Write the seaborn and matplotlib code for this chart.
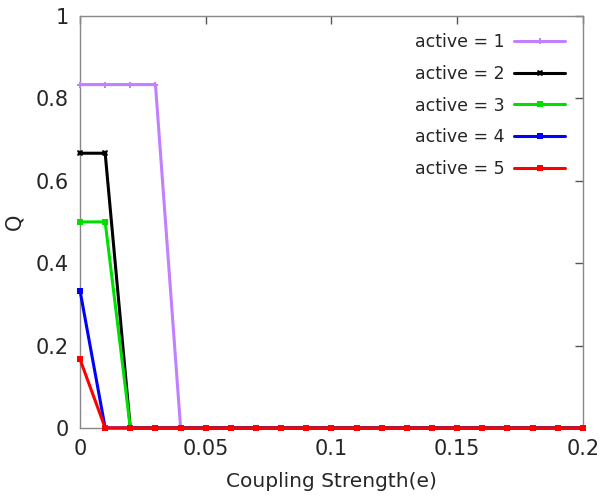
import numpy as np
import pandas as pd
import seaborn as sns
import matplotlib
matplotlib.use("Agg")
import matplotlib.pyplot as plt

coupling = [round(0.01 * i, 2) for i in range(21)]
q_active1 = [0.8333, 0.8333, 0.8333, 0.8333] + [0.0] * 17
q_active2 = [0.6667, 0.6667] + [0.0] * 19
q_active3 = [0.5, 0.5] + [0.0] * 19
q_active4 = [0.3333] + [0.0] * 20
q_active5 = [0.1667] + [0.0] * 20
series_labels = ["active = 1", "active = 2", "active = 3", "active = 4", "active = 5"]
x_ticks = [0, 0.05, 0.1, 0.15, 0.2]
x_tick_labels = ["0", "0.05", "0.1", "0.15", "0.2"]
y_ticks = [0, 0.2, 0.4, 0.6, 0.8, 1]
y_tick_labels = ["0", "0.2", "0.4", "0.6", "0.8", "1"]

series = [q_active1, q_active2, q_active3, q_active4, q_active5]
rows = []
for lab, vals in zip(series_labels, series):
    for x, y in zip(coupling, vals):
        rows.append({"e": x, "Q": y, "series": lab})
df = pd.DataFrame(rows)

sns.set_style("white")
plt.rcParams['font.family'] = ['DejaVu Sans']

colors = ["#c080ff", "#000000", "#00e000", "#0000ff", "#ff0000"]
markers = ["P", "X", "s", "s", "s"]

fig = plt.figure(figsize=(6.03, 4.97), dpi=100)
ax = fig.add_axes([0.1327, 0.139, 0.834, 0.829])

sns.lineplot(data=df, x="e", y="Q", hue="series", style="series",
             palette=dict(zip(series_labels, colors)),
             markers=dict(zip(series_labels, markers)),
             dashes=False, linewidth=2.2, markersize=5, markeredgewidth=0,
             ax=ax, clip_on=False, zorder=3)

ax.set_xlim(0, 0.2)
ax.set_ylim(0, 1)
ax.set_xticks(x_ticks)
ax.set_xticklabels(x_tick_labels)
ax.set_yticks(y_ticks)
ax.set_yticklabels(y_tick_labels)
ax.tick_params(direction="in", length=6, width=1, color="#555555",
               top=True, right=True, labelsize=15, pad=8)
for s in ax.spines.values():
    s.set_color("#888888")
    s.set_linewidth(1)
ax.set_xlabel("Coupling Strength(e)", fontsize=14.5, labelpad=9)
ax.set_ylabel("Q", fontsize=15, labelpad=8)

h, l = ax.get_legend_handles_labels()
ax.legend(h, l, loc="upper right", frameon=False, markerfirst=False,
          fontsize=12.5, handlelength=2.9, handletextpad=0.55,
          labelspacing=0.8, borderpad=0, borderaxespad=0,
          bbox_to_anchor=(0.964, 0.959))

fig.savefig("out.png", dpi=100)
